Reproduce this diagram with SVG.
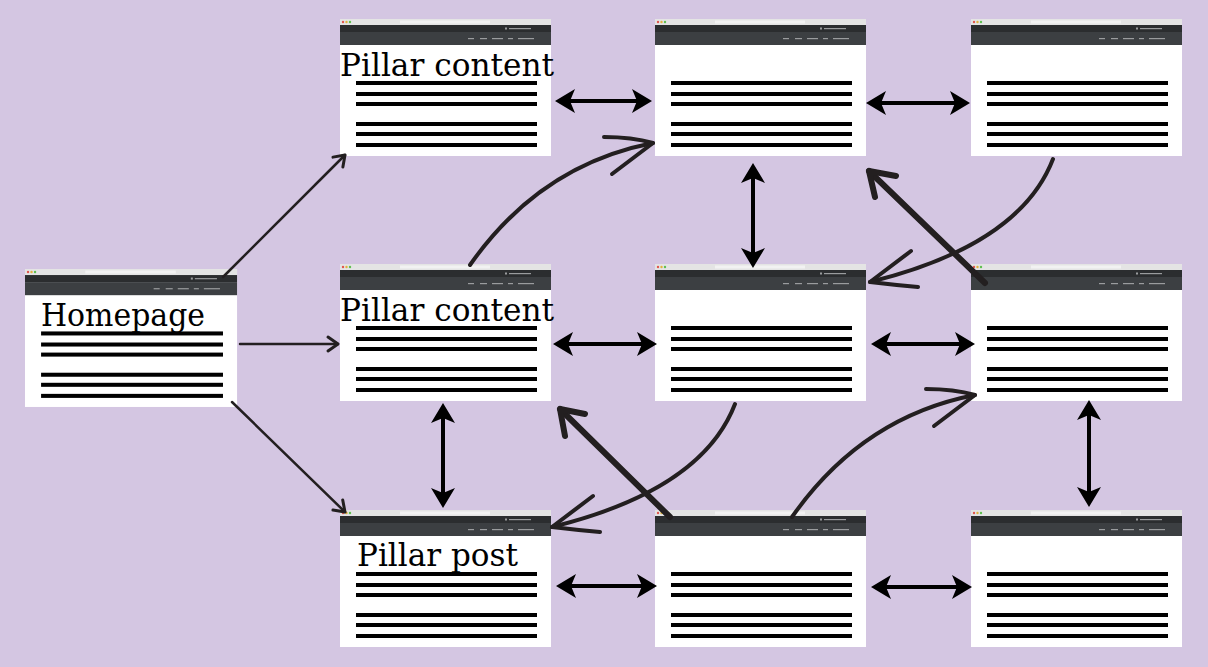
<svg xmlns="http://www.w3.org/2000/svg" width="1208" height="667" viewBox="0 0 1208 667">
<style>
.bg{fill:#d4c6e2}
.page{fill:#ffffff}
.bar1{fill:#e4e4e4}
.addr{fill:#f2f2f2}
.bar2{fill:#2b2d2f}
.bar3{fill:#3c3f42}
.tiny{fill:#9a9c9e}
.ln{fill:#000000}
.lbl{font-family:"DejaVu Serif","Liberation Serif",serif;font-size:31px;fill:#000000}
.thin{fill:none;stroke:#231f20;stroke-width:2.5;stroke-linecap:round;stroke-linejoin:round}
.dbl{fill:none;stroke:#000000;stroke-width:4}
.hand{fill:none;stroke:#231f20;stroke-width:4;stroke-linecap:round;stroke-linejoin:round}
.bold{fill:none;stroke:#231f20;stroke-width:6;stroke-linecap:round;stroke-linejoin:round}
</style>
<defs>
<marker id="dh" markerUnits="userSpaceOnUse" viewBox="-12 -14 24 28" markerWidth="24" markerHeight="28" refX="0" refY="0" orient="auto-start-reverse">
<path d="M10,0 L-10,-12 L-5,0 L-10,12 Z" fill="#000000"/>
</marker>
<marker id="th" markerUnits="userSpaceOnUse" viewBox="-14 -10 18 20" markerWidth="18" markerHeight="20" refX="0" refY="0" orient="auto">
<path d="M-10,-7 L0,0 L-10,7" fill="none" stroke="#231f20" stroke-width="3" stroke-linecap="round" stroke-linejoin="round"/>
</marker>
<g id="chrome">
<rect class="page" x="0" y="0" width="211" height="137"/>
<rect class="bar1" x="0" y="0" width="211" height="6"/>
<rect class="addr" x="60" y="1.5" width="90" height="3"/>
<circle cx="3" cy="3" r="1.2" fill="#e0574f"/>
<circle cx="6.5" cy="3" r="1.2" fill="#e2b33c"/>
<circle cx="10" cy="3" r="1.2" fill="#5fbf4f"/>
<rect class="bar2" x="0" y="6" width="211" height="7"/>
<rect class="bar3" x="0" y="13" width="211" height="13"/>
<rect class="tiny" x="165" y="8.5" width="2" height="2"/>
<rect class="tiny" x="169" y="9" width="22" height="1.2"/>
<rect class="tiny" x="128" y="19" width="6" height="1.2"/>
<rect class="tiny" x="140" y="19" width="7" height="1.2"/>
<rect class="tiny" x="152" y="19" width="11" height="1.2"/>
<rect class="tiny" x="168" y="19" width="5" height="1.2"/>
<rect class="tiny" x="178" y="19" width="16" height="1.2"/>
<rect class="ln" x="16" y="62" width="181" height="4"/>
<rect class="ln" x="16" y="73" width="181" height="4"/>
<rect class="ln" x="16" y="83" width="181" height="4"/>
<rect class="ln" x="16" y="103" width="181" height="4"/>
<rect class="ln" x="16" y="113" width="181" height="4"/>
<rect class="ln" x="16" y="124" width="181" height="4"/>
</g>
</defs>
<rect class="bg" x="0" y="0" width="1208" height="667"/>

<g id="homepage">
<use href="#chrome" transform="translate(25,269) scale(1.005,1.007)"/>
<text class="lbl" x="41" y="326" textLength="164" lengthAdjust="spacingAndGlyphs">Homepage</text>
</g>
<g id="pillar-top">
<use href="#chrome" x="340" y="19"/>
<text class="lbl" x="340" y="76" textLength="214" lengthAdjust="spacingAndGlyphs">Pillar content</text>
</g>
<g id="page-r1c2"><use href="#chrome" x="655" y="19"/></g>
<g id="page-r1c3"><use href="#chrome" x="971" y="19"/></g>
<g id="pillar-mid">
<use href="#chrome" x="340" y="264"/>
<text class="lbl" x="340" y="321" textLength="214" lengthAdjust="spacingAndGlyphs">Pillar content</text>
</g>
<g id="page-r2c2"><use href="#chrome" x="655" y="264"/></g>
<g id="page-r2c3"><use href="#chrome" x="971" y="264"/></g>
<g id="pillar-post">
<use href="#chrome" x="340" y="510"/>
<text class="lbl" x="357" y="566" textLength="161" lengthAdjust="spacingAndGlyphs">Pillar post</text>
</g>
<g id="page-r3c2"><use href="#chrome" x="655" y="510"/></g>
<g id="page-r3c3"><use href="#chrome" x="971" y="510"/></g>

<g id="connectors">
<line class="thin" x1="223" y1="277" x2="345" y2="155" marker-end="url(#th)"/>
<line class="thin" x1="240" y1="344" x2="338" y2="344" marker-end="url(#th)"/>
<line class="thin" x1="232" y1="402" x2="345" y2="512" marker-end="url(#th)"/>

<line class="dbl" x1="565" y1="101" x2="642" y2="101" marker-start="url(#dh)" marker-end="url(#dh)"/>
<line class="dbl" x1="876" y1="103" x2="960" y2="103" marker-start="url(#dh)" marker-end="url(#dh)"/>
<line class="dbl" x1="563" y1="344" x2="647" y2="344" marker-start="url(#dh)" marker-end="url(#dh)"/>
<line class="dbl" x1="881" y1="344" x2="965" y2="344" marker-start="url(#dh)" marker-end="url(#dh)"/>
<line class="dbl" x1="566" y1="586" x2="647" y2="586" marker-start="url(#dh)" marker-end="url(#dh)"/>
<line class="dbl" x1="881" y1="587" x2="962" y2="587" marker-start="url(#dh)" marker-end="url(#dh)"/>
<line class="dbl" x1="753" y1="173" x2="753" y2="258" marker-start="url(#dh)" marker-end="url(#dh)"/>
<line class="dbl" x1="443" y1="413" x2="443" y2="498" marker-start="url(#dh)" marker-end="url(#dh)"/>
<line class="dbl" x1="1089" y1="410" x2="1089" y2="497" marker-start="url(#dh)" marker-end="url(#dh)"/>

<path class="hand" d="M470,265 Q540,165 653,143"/>
<path class="hand" d="M604,137 Q632,137 653,143 L612,174"/>
<path class="hand" d="M792,517 Q862,417 975,395"/>
<path class="hand" d="M926,389 Q954,389 975,395 L934,426"/>
<path class="hand" d="M1053,159 Q1020,245 870,282"/>
<path class="hand" d="M911,251 L870,282 Q895,285 918,287"/>
<path class="hand" d="M735,404 Q702,490 552,527"/>
<path class="hand" d="M593,496 L552,527 Q577,530 600,532"/>

<path class="bold" d="M985,283 L869,171"/>
<path class="bold" d="M875,197 L869,171 L896,176"/>
<path class="bold" d="M670,517 L560,409"/>
<path class="bold" d="M585,414 L560,409 L565,436"/>
</g>
</svg>
